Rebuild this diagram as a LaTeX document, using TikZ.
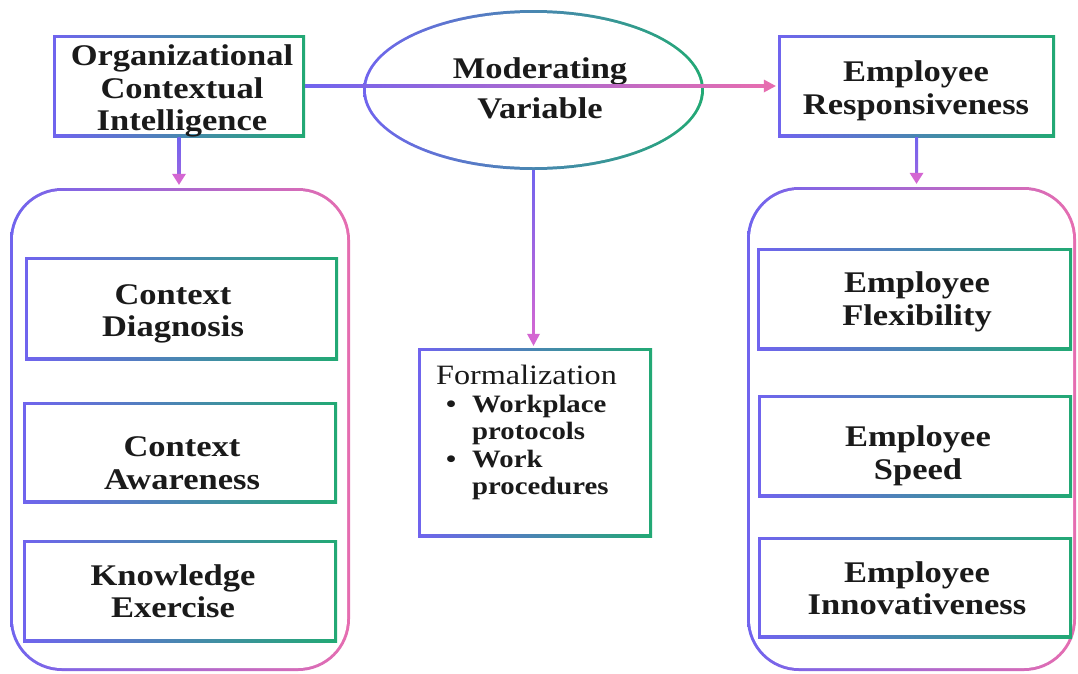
\documentclass[tikz,border=0pt]{standalone}
\usepackage{fontspec}
\setmainfont[FakeStretch=1.15]{Liberation Serif}
\usetikzlibrary{shapes.geometric}

\definecolor{cP}{HTML}{7064EE}
\definecolor{cG}{HTML}{22A974}
\definecolor{cK}{HTML}{E66DB0}
\definecolor{cM}{HTML}{D466D2}
\definecolor{ink}{HTML}{1A1A1A}

\tikzset{
  % rectangle whose outline runs from violet (left) to green (right)
  gbox/.style 2 args={rectangle, inner sep=0pt, minimum width=#1pt, minimum height=#2pt,
    path picture={
      \shade[left color=cP, right color=cG]
        (path picture bounding box.south west) rectangle (path picture bounding box.north east);
      \fill[white]
        ([shift={(3pt,3pt)}]path picture bounding box.south west) rectangle
        ([shift={(-3pt,-3pt)}]path picture bounding box.north east);}},
  % ellipse with the same violet-to-green outline
  gell/.style={ellipse, inner sep=0pt, minimum width=341pt, minimum height=160pt,
    path picture={
      \shade[left color=cP, right color=cG]
        (path picture bounding box.south west) rectangle (path picture bounding box.north east);
      \fill[white] (path picture bounding box.center) ellipse [x radius=167.5pt, y radius=77pt];}},
  % large rounded container, violet (left) to pink (right)
  cont/.style 2 args={rectangle, rounded corners=52pt, inner sep=0pt,
    minimum width=#1pt, minimum height=#2pt,
    path picture={
      \shade[left color=cP, right color=cK]
        (path picture bounding box.south west) rectangle (path picture bounding box.north east);
      \fill[white, rounded corners=49pt]
        ([shift={(3pt,3pt)}]path picture bounding box.south west) rectangle
        ([shift={(-3pt,-3pt)}]path picture bounding box.north east);}},
  lbl/.style={font=\bfseries\fontsize{30}{32.5}\selectfont, align=center, text=ink, inner sep=0pt},
  ftxt/.style={font=\fontsize{25}{27.5}\selectfont, align=left, text=ink, inner sep=0pt},
}

\begin{document}
\begin{tikzpicture}[x=1pt, y=-1pt]
\fill[white] (0,0) rectangle (1078,673);
\useasboundingbox (0,0) rectangle (1078,673);

% frames
\node[gbox={252}{102}] (oci) at (179,86) {};
\node[gell] (mv) at (533.5,90) {};
\node[gbox={277}{102}] (er) at (916.5,86) {};
\node[cont={340}{483}] (lc) at (180,429.5) {};
\node[cont={329}{484}] (rc) at (911.5,429) {};
\node[gbox={313}{103}] (cd) at (181.5,308.5) {};
\node[gbox={314}{101}] (ca) at (180,452.5) {};
\node[gbox={314}{102}] (ke) at (180,591) {};
\node[gbox={315}{102}] (ef) at (914.5,299) {};
\node[gbox={314}{102}] (es) at (915,446) {};
\node[gbox={314}{101}] (ei) at (915,587.5) {};
\node[gbox={234}{189}] (form) at (535,442.5) {};

% labels
\node[lbl] (oci-t) at (182,91) {Organizational\\Contextual\\Intelligence};
\node[lbl, font=\bfseries\fontsize{30}{40}\selectfont] (mv-t) at (540,88) {Moderating\\Variable};
\node[lbl] (er-t) at (916,91) {Employee\\Responsiveness};
\node[lbl] (cd-t) at (173,314) {Context\\Diagnosis};
\node[lbl] (ca-t) at (182,463) {Context\\Awareness};
\node[lbl] (ke-t) at (173,591) {Knowledge\\Exercise};
\node[lbl] (ef-t) at (917,302) {Employee\\Flexibility};
\node[lbl] (es-t) at (918,456) {Employee\\Speed};
\node[lbl] (ei-t) at (917,588) {Employee\\Innovativeness};
\node[ftxt, anchor=north west] (form-t) at (436,365)
  {{\fontsize{28}{27.5}\selectfont Formalization}\\
   \hspace*{10pt}\makebox[26pt][l]{\textbf{\textbullet}}\textbf{Workplace}\\
   \hspace*{36pt}\textbf{protocols}\\
   \hspace*{10pt}\makebox[26pt][l]{\textbf{\textbullet}}\textbf{Work}\\
   \hspace*{36pt}\textbf{procedures}};

% connector: Organizational Contextual Intelligence -> Employee Responsiveness
\shade[left color=cP, middle color=cP!55!cK, right color=cK]
  ([yshift=1.5pt]oci.east) rectangle ([xshift=-12pt, yshift=-1.5pt]er.west);
\fill[cK] ([xshift=-2pt]er.west) -- ++(-12pt,6.5pt) -- ++(0,-13pt) -- cycle;

% connector: Organizational Contextual Intelligence -> left container
\shade[top color=cP, bottom color=cP!60!cM]
  ([xshift=-1.5pt]oci.south) rectangle ([xshift=1.5pt, yshift=12pt]oci.south |- lc.north);
\fill[cM] ([yshift=3pt]oci.south |- lc.north) -- ++(-7pt,11pt) -- ++(14pt,0) -- cycle;

% connector: Employee Responsiveness -> right container
\shade[top color=cP, bottom color=cP!60!cM]
  ([xshift=-1.5pt]er.south) rectangle ([xshift=1.5pt, yshift=12pt]er.south |- rc.north);
\fill[cM] ([yshift=3pt]er.south |- rc.north) -- ++(-7pt,11pt) -- ++(14pt,0) -- cycle;

% connector: Moderating Variable -> Formalization
\shade[top color=cP, bottom color=cM]
  ([xshift=-1.3pt]mv.south) rectangle ([xshift=1.3pt, yshift=12pt]mv.south |- form.north);
\fill[cM] ([yshift=2pt]mv.south |- form.north) -- ++(-6.5pt,12pt) -- ++(13pt,0) -- cycle;
\end{tikzpicture}
\end{document}
